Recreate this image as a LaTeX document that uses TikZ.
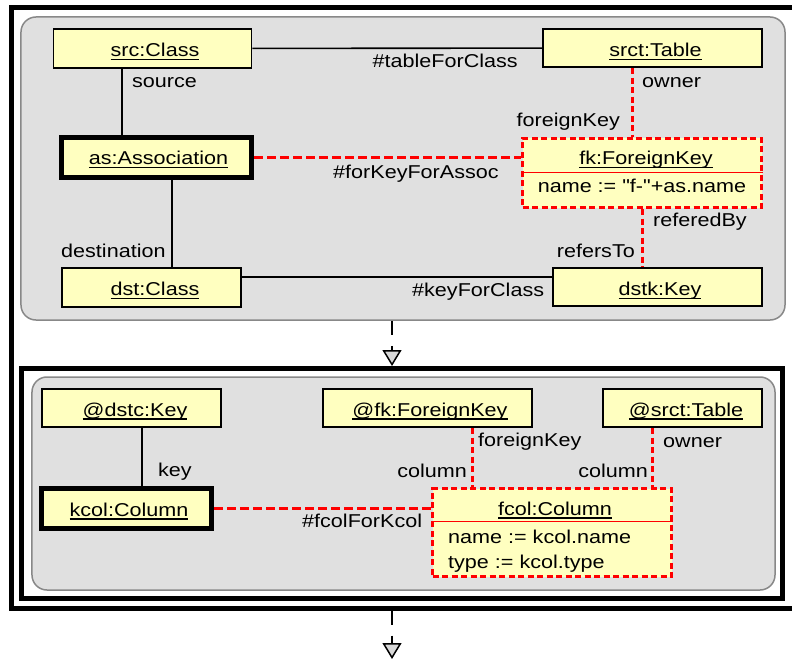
\documentclass[tikz,border=0pt]{standalone}
\usepackage{fontspec}
% plain family: no TeX ligature mapping, so " stays straight
\newfontfamily\diagfont{Liberation Sans}[FakeStretch=1.16]
\usetikzlibrary{arrows.meta}
\definecolor{objfill}{RGB}{255,255,192}
\definecolor{panelfill}{RGB}{224,224,224}
\definecolor{panelline}{RGB}{136,136,136}
\definecolor{tipfill}{RGB}{216,216,216}
% underlined object name
\newcommand\uln[1]{\setbox0\hbox{#1}\rlap{\rule[-3.5bp]{\wd0}{1.3bp}}\box0}
\begin{document}
\begin{tikzpicture}[x=1bp,y=-1bp,
  txt/.style={font=\diagfont\fontsize{18.6bp}{22bp}\selectfont, inner sep=0pt},
  obj/.style={draw=black, line width=1.6bp, fill=objfill, inner sep=0pt},
  focus/.style={obj, line width=5bp},
  created/.style={obj, draw=red, line width=3bp, dash pattern=on 6bp off 3.5bp},
  panel/.style={draw=panelline, line width=1.5bp, fill=panelfill, rounded corners=15bp, inner sep=0pt},
  frame/.style={draw=black, line width=5bp, inner sep=0pt},
  link/.style={draw=black, line width=1.6bp},
  newlinkh/.style={draw=red, line width=3bp, dash pattern=on 9bp off 4bp},
  newlinkv/.style={draw=red, line width=3bp, dash pattern=on 6bp off 3.5bp},
  compsep/.style={draw=red, line width=1.5bp},
  rulearrow/.style={draw=black, line width=2bp, dash pattern=on 14bp off 11bp,
    -{Triangle[width=19bp,length=16bp,fill=tipfill,line width=1.5bp]}}
]
\useasboundingbox (0,0) rectangle (792,659);

% frames and panels
\node[frame, minimum width=788bp, minimum height=600bp] (outer) at (406,308) {};
\node[panel, minimum width=764bp, minimum height=303bp] (lhs) at (403,168.5) {};
\node[frame, minimum width=761bp, minimum height=229.5bp] (rhs) at (402,483.25) {};
\node[panel, minimum width=743bp, minimum height=213bp] (rhsp) at (403.5,483.5) {};

% upper pattern objects
\node[obj, minimum width=198bp, minimum height=39bp] (src) at (152.5,48.5) {};
\node[obj, minimum width=219bp, minimum height=38.5bp] (srct) at (652.5,48) {};
\node[focus, minimum width=190bp, minimum height=40bp] (as) at (156.5,157.5) {};
\node[created, minimum width=239bp, minimum height=69bp] (fk) at (642,173) {};
\node[obj, minimum width=179bp, minimum height=39.5bp] (dst) at (151.5,287.5) {};
\node[obj, minimum width=209bp, minimum height=38.5bp] (dstk) at (657.5,287) {};

\node[txt, anchor=base] (src-t) at (155,56.5) {\uln{src:Class}};
\node[txt, anchor=base] (srct-t) at (655.5,56.5) {\uln{srct:Table}};
\node[txt, anchor=base] (as-t) at (158.5,164.5) {\uln{as:Association}};
\node[txt, anchor=base] (fk-t) at (646,164.5) {\uln{fk:ForeignKey}};
\node[txt, anchor=base] (fk-a) at (642,192.5) {name := "f-"+as.name};
\node[txt, anchor=base] (dst-t) at (155,295.5) {\uln{dst:Class}};
\node[txt, anchor=base] (dstk-t) at (660,295.5) {\uln{dstk:Key}};
\draw[compsep] (fk.west |- 0,172.3) -- (fk.east |- 0,172.3);

% upper links
\draw[link] (src) -- (srct);
\draw[link] (src.south -| 122,0) -- (as.north -| 122,0);
\draw[link] (as.south -| 172,0) -- (dst.north -| 172,0);
\draw[link] (dst.east |- 0,277) -- (dstk.west |- 0,277);
\draw[newlinkh] (as.east) -- (as.east -| fk.west);
\draw[newlinkv] (srct.south -| 632,0) -- (fk.north -| 632,0);
\draw[newlinkv] (fk.south) -- (fk.south |- dstk.north);

\node[txt, anchor=base east] (l-tfc) at (518,68) {\#tableForClass};
\node[txt, anchor=base west] (l-src) at (132,88) {source};
\node[txt, anchor=base west] (l-own) at (642,88) {owner};
\node[txt, anchor=base east] (l-fkey) at (620,127) {foreignKey};
\node[txt, anchor=base west] (l-fkfa) at (333,178.5) {\#forKeyForAssoc};
\node[txt, anchor=base west] (l-refby) at (653,226) {referedBy};
\node[txt, anchor=base east] (l-refto) at (635,257) {refersTo};
\node[txt, anchor=base west] (l-dest) at (61,257) {destination};
\node[txt, anchor=base west] (l-kfc) at (412,296) {\#keyForClass};

% lower pattern objects
\node[obj, minimum width=179bp, minimum height=38.5bp] (dstc) at (131.5,408) {};
\node[obj, minimum width=209bp, minimum height=38.5bp] (fkb) at (427.5,408) {};
\node[obj, minimum width=159bp, minimum height=38.5bp] (srctb) at (682.5,408) {};
\node[focus, minimum width=170bp, minimum height=40bp] (kcol) at (126.5,508.5) {};
\node[created, minimum width=239bp, minimum height=88bp] (fcol) at (552,532.5) {};

\node[txt, anchor=base] (dstc-t) at (135,416) {\uln{@dstc:Key}};
\node[txt, anchor=base] (fkb-t) at (430,416) {\uln{@fk:ForeignKey}};
\node[txt, anchor=base] (srctb-t) at (686,416) {\uln{@srct:Table}};
\node[txt, anchor=base] (kcol-t) at (129,516) {\uln{kcol:Column}};
\node[txt, anchor=base] (fcol-t) at (555,515) {\uln{fcol:Column}};
\node[txt, anchor=base west] (fcol-a1) at (448,543) {name := kcol.name};
\node[txt, anchor=base west] (fcol-a2) at (448,568) {type := kcol.type};
\draw[compsep] (fcol.west |- 0,521.7) -- (fcol.east |- 0,521.7);

% lower links
\draw[link] (dstc.south -| 142,0) -- (kcol.north -| 142,0);
\draw[newlinkh] (kcol.east) -- (kcol.east -| fcol.west);
\draw[newlinkv] (fkb.south -| 472,0) -- (fcol.north -| 472,0);
\draw[newlinkv] (srctb.south -| 652,0) -- (fcol.north -| 652,0);

\node[txt, anchor=base west] (l-key) at (158,476) {key};
\node[txt, anchor=base west] (l-fcfk) at (302,527) {\#fcolForKcol};
\node[txt, anchor=base west] (l-fkey2) at (478,446) {foreignKey};
\node[txt, anchor=base west] (l-own2) at (663,447) {owner};
\node[txt, anchor=base east] (l-col1) at (467,477) {column};
\node[txt, anchor=base east] (l-col2) at (648,477) {column};

% rule application arrows
\coordinate (next) at (392,659);
\draw[rulearrow] (lhs.south -| 392,0) -- (rhs.north -| 392,0);
\draw[rulearrow] (outer.south -| 392,0) -- (next);
\end{tikzpicture}
\end{document}
